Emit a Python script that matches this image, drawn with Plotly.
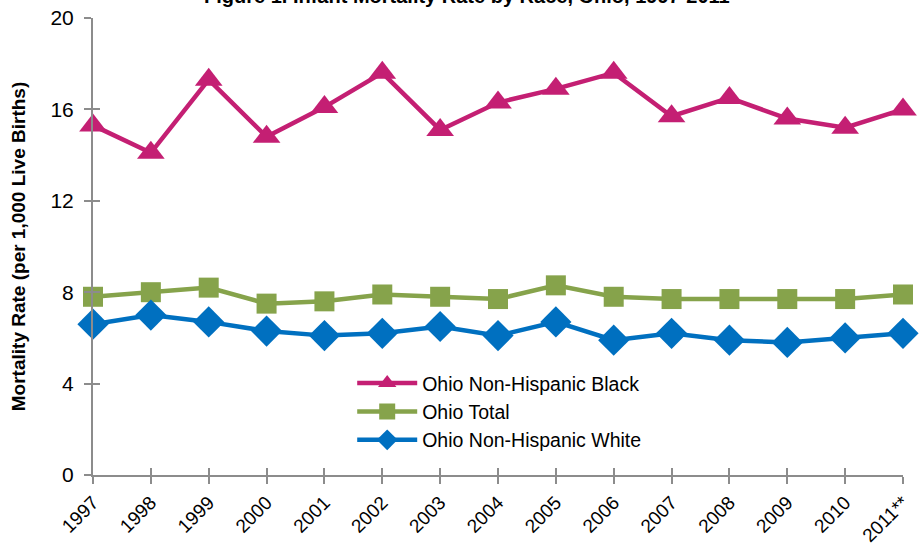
import plotly.graph_objects as go

years = ["1997", "1998", "1999", "2000", "2001", "2002", "2003", "2004",
         "2005", "2006", "2007", "2008", "2009", "2010", "2011**"]
black = [15.3, 14.1, 17.3, 14.8, 16.1, 17.6, 15.1, 16.3, 16.9, 17.6, 15.7, 16.5, 15.6, 15.2, 16.0]
total = [7.8, 8.0, 8.2, 7.5, 7.6, 7.9, 7.8, 7.7, 8.3, 7.8, 7.7, 7.7, 7.7, 7.7, 7.9]
white = [6.6, 7.0, 6.7, 6.3, 6.1, 6.2, 6.5, 6.1, 6.7, 5.9, 6.2, 5.9, 5.8, 6.0, 6.2]
yticks = [0, 4, 8, 12, 16, 20]

FONT = "Liberation Sans Narrow, Arial Narrow, Liberation Sans, Arial, sans-serif"
AXC = "#8C8C8C"

fig = go.Figure()
fig.add_trace(go.Scatter(x=years, y=black, name="Ohio Non-Hispanic Black", mode="lines+markers",
                         cliponaxis=False,
                         line=dict(color="#C41F73", width=4.5),
                         marker=dict(symbol="triangle-up", size=24, color="#C41F73")))
fig.add_trace(go.Scatter(x=years, y=total, name="Ohio Total", mode="lines+markers",
                         cliponaxis=False,
                         line=dict(color="#86A34B", width=4.5),
                         marker=dict(symbol="square", size=20, color="#86A34B")))
fig.add_trace(go.Scatter(x=years, y=white, name="Ohio Non-Hispanic White", mode="lines+markers",
                         cliponaxis=False,
                         line=dict(color="#0070C0", width=4.5),
                         marker=dict(symbol="diamond", size=24, color="#0070C0")))
# empty helper trace so the overlay axes (inside half of the crossing ticks) get drawn
fig.add_trace(go.Scatter(x=[], y=[], xaxis="x2", yaxis="y2", showlegend=False, hoverinfo="skip"))

fig.add_annotation(text="<b>Figure 1. Infant Mortality Rate by Race, Ohio, 1997-2011</b>",
                   xref="paper", yref="paper", x=0.462, y=1.0, yshift=9, yanchor="bottom",
                   showarrow=False, font=dict(family="Liberation Sans, Arial, sans-serif", size=20, color="black"))

fig.update_layout(
    width=922, height=545,
    margin=dict(l=93, r=19, t=18, b=70),
    paper_bgcolor="white", plot_bgcolor="white",
    font=dict(family=FONT, color="black", size=19),
    showlegend=True,
    legend=dict(x=0.32, y=0.243, xanchor="left", yanchor="top",
                font=dict(family=FONT, size=19.5, color="black"),
                bgcolor="rgba(0,0,0,0)", itemwidth=60, tracegroupgap=0),
    xaxis=dict(range=[0, 14], showgrid=False, zeroline=False, automargin=False,
               showline=True, linecolor=AXC, linewidth=2,
               ticks="outside", ticklen=7, tickcolor=AXC, tickwidth=1.5,
               tickangle=-45, tickfont=dict(family=FONT, size=19)),
    yaxis=dict(range=[0, 20], tickvals=yticks, showgrid=False, zeroline=False, automargin=False,
               showline=True, linecolor=AXC, linewidth=2,
               ticks="outside", ticklen=7, tickcolor=AXC, tickwidth=1.5,
               ticklabelstandoff=6,
               tickfont=dict(family=FONT, size=21),
               title=dict(text="<b>Mortality Rate (per 1,000 Live Births)</b>",
                          font=dict(family="Liberation Sans, Arial, sans-serif", size=19), standoff=20)),
    xaxis2=dict(overlaying="x", range=[0, 14], tickvals=list(range(len(years))), side="bottom",
                showgrid=False, zeroline=False, showline=False, showticklabels=False,
                ticks="inside", ticklen=7, tickcolor=AXC, tickwidth=1.5, automargin=False),
    yaxis2=dict(overlaying="y", range=[0, 20], tickvals=yticks, side="left",
                showgrid=False, zeroline=False, showline=False, showticklabels=False,
                ticks="inside", ticklen=7, tickcolor=AXC, tickwidth=1.5, automargin=False),
)

fig.write_html("out.html")
